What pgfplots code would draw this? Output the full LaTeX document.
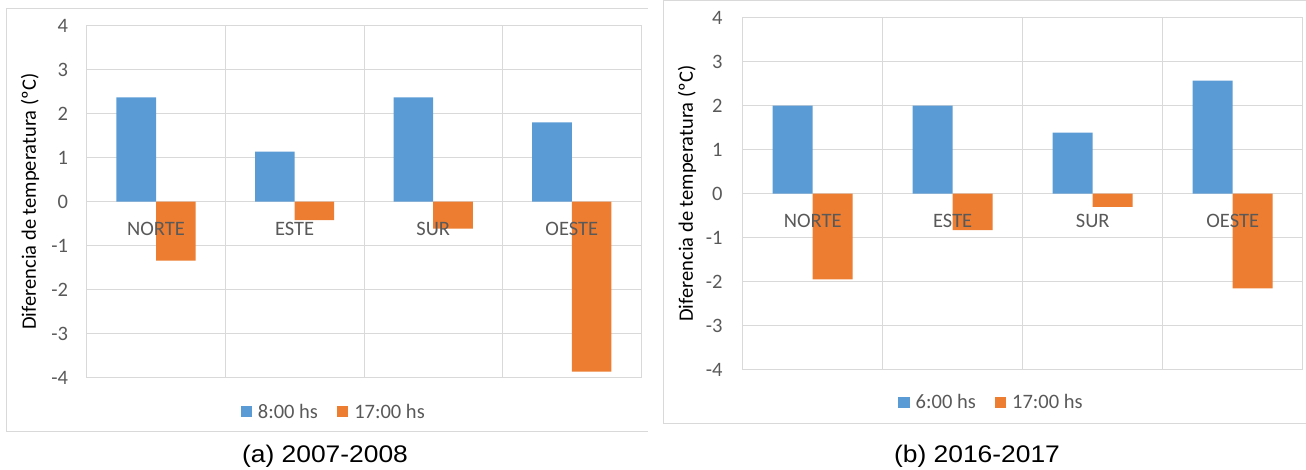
\documentclass[border=0pt]{standalone}
\usepackage{pgfplots}
\pgfplotsset{compat=1.18}
\usepackage{fontspec}
\setmainfont{Carlito}
\newfontfamily\capfont[FakeStretch=1.1]{Liberation Sans}
\definecolor{barblue}{HTML}{5B9BD5}
\definecolor{barorange}{HTML}{ED7D31}
\definecolor{gridgray}{HTML}{D9D9D9}
\definecolor{txtgray}{HTML}{595959}

\pgfplotsset{
  panelbox/.style={
    scale only axis,
    anchor=south west,
    height=352pt,
    ymin=-4, ymax=4,
    xmin=-0.5, xmax=3.5,
    major tick length=0pt,
    tick label style={text=txtgray},
  },
  diffchart/.style={
    panelbox,
    ybar=0pt,
    ytick={-4,-3,-2,-1,0,1,2,3,4},
    yticklabels={-4,-3,-2,-1,0,1,2,3,4},
    xtick={-0.5,0.5,1.5,2.5,3.5},
    xticklabels={},
    grid=major,
    major grid style={draw=gridgray, line width=0.8pt},
    axis line style={draw=gridgray, line width=0.8pt},
    yticklabel style={anchor=east, inner sep=0pt},
    ylabel={Diferencia de temperatura (ºC)},
    label style={text=txtgray},
    legend columns=2,
    legend style={draw=none, fill=none, anchor=center, text=txtgray,
      inner sep=0pt, nodes={inner sep=0pt},
      /tikz/every odd column/.append style={column sep=6pt},
      /tikz/every even column/.append style={column sep=19pt}},
    legend image code/.code={\fill[##1, draw=none] (0pt,-5.65pt) rectangle (11.3pt,5.65pt);},
  },
  % overlay axis: only the category names, drawn over the bars
  catlabels/.style={
    panelbox,
    axis line style={draw=none},
    ytick=\empty,
    xtick={0,1,2,3},
    xticklabels={NORTE,ESTE,SUR,OESTE},
    xticklabel style={anchor=north, inner sep=0pt, yshift=156pt},
  },
}

\begin{document}
\begin{tikzpicture}[font=\fontsize{20.5pt}{24pt}\selectfont]
\path[use as bounding box] (0pt,0pt) rectangle (1306pt,470pt);

% panel frames
\draw[gridgray, line width=0.8pt] (648pt,461.7pt) -- (6pt,461.7pt) -- (6pt,39pt) -- (648pt,39pt);
\draw[gridgray, line width=0.8pt] (1310pt,469.3pt) -- (663.3pt,469.3pt) -- (663.3pt,46.7pt) -- (1310pt,46.7pt);

% (a) 2007-2008
\begin{axis}[diffchart,
    at={(86.7pt,92.3pt)},
    width=554.4pt,
    bar width=39.6pt,
    yticklabel style={xshift=-18.5pt},
    every axis y label/.style={at={(axis description cs:-0.1023,0.5)}, rotate=90, anchor=center},
    legend style={at={(axis description cs:0.4437,-0.0966)}},
]
\addplot[fill=barblue, draw=none] coordinates {(0,2.37) (1,1.14) (2,2.37) (3,1.80)};
\addplot[fill=barorange, draw=none] coordinates {(0,-1.34) (1,-0.42) (2,-0.61) (3,-3.86)};
\legend{8:00 hs, 17:00 hs}
\end{axis}
\begin{axis}[catlabels, at={(86.7pt,92.3pt)}, width=554.4pt]
\end{axis}

% (b) 2016-2017
\begin{axis}[diffchart,
    at={(742.7pt,100.3pt)},
    width=560pt,
    bar width=40pt,
    yticklabel style={xshift=-20pt},
    every axis y label/.style={at={(axis description cs:-0.0995,0.5)}, rotate=90, anchor=center},
    legend style={at={(axis description cs:0.4425,-0.0932)}},
]
\addplot[fill=barblue, draw=none] coordinates {(0,2.00) (1,2.00) (2,1.39) (3,2.57)};
\addplot[fill=barorange, draw=none] coordinates {(0,-1.95) (1,-0.83) (2,-0.30) (3,-2.15)};
\legend{6:00 hs, 17:00 hs}
\end{axis}
\begin{axis}[catlabels, at={(742.7pt,100.3pt)}, width=560pt]
\end{axis}

\node[font=\capfont\fontsize{24pt}{28pt}\selectfont] at (325pt,14pt) {(a) 2007-2008};
\node[font=\capfont\fontsize{24pt}{28pt}\selectfont] at (977pt,14pt) {(b) 2016-2017};
\end{tikzpicture}
\end{document}
